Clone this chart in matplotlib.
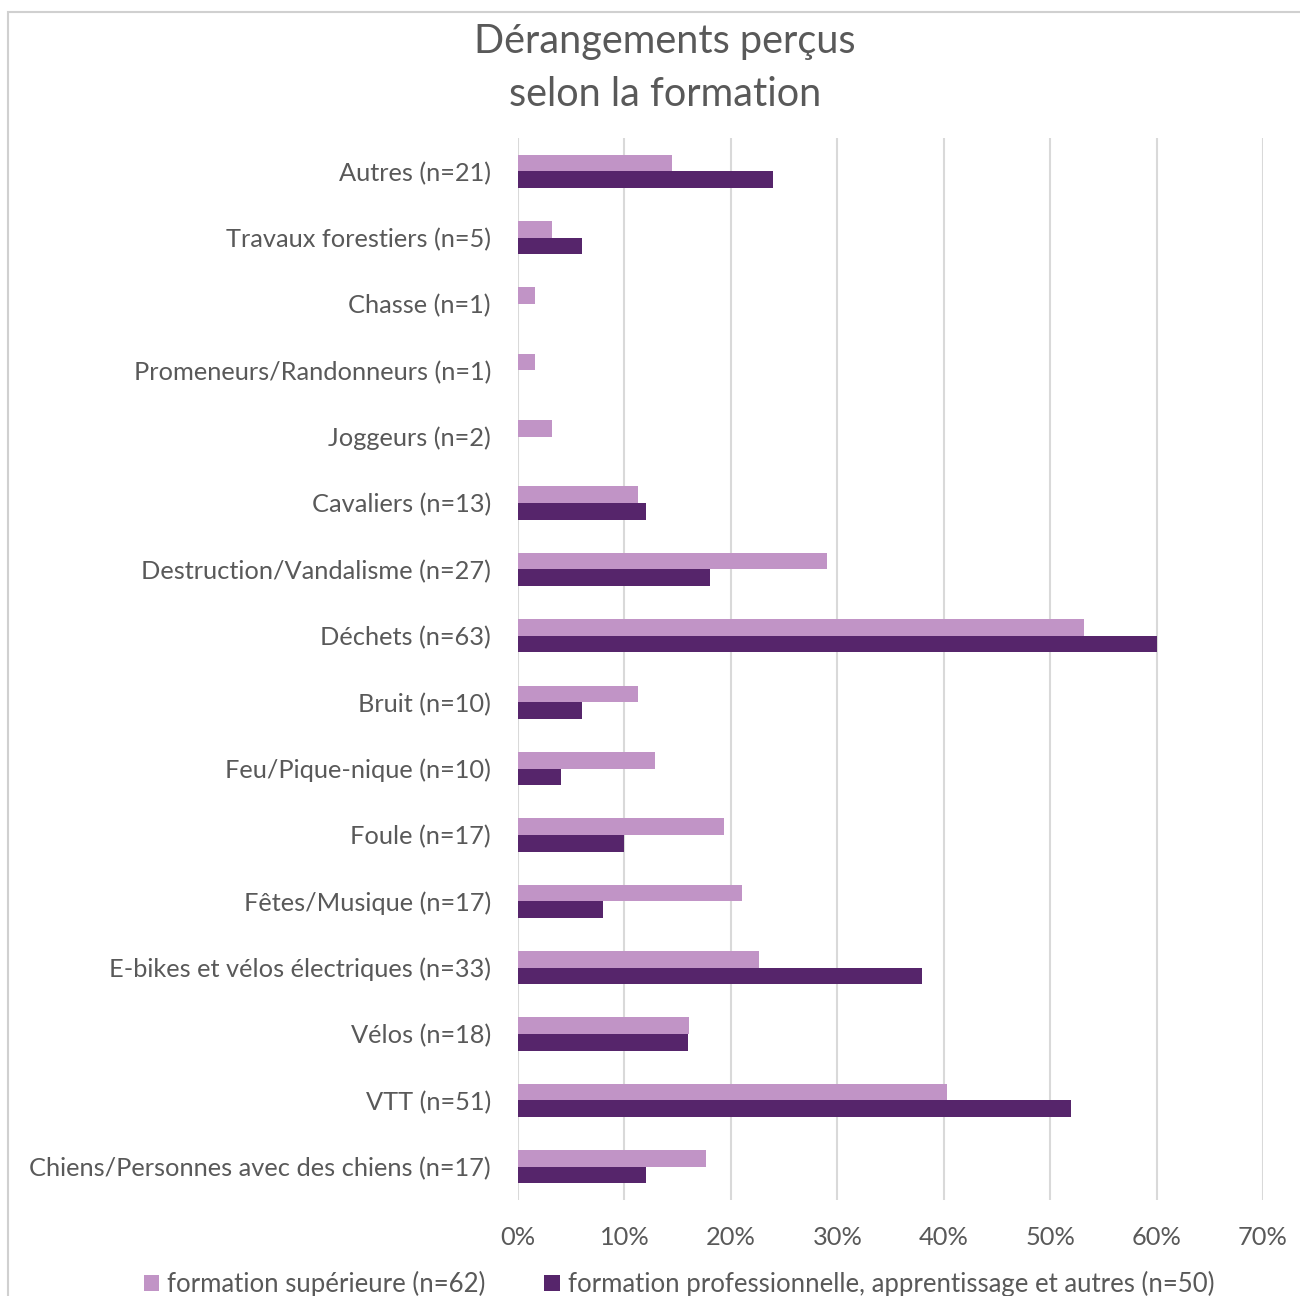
import matplotlib
matplotlib.use("Agg")
import matplotlib.pyplot as plt
from matplotlib.patches import Rectangle
from matplotlib.ticker import FuncFormatter

# Categories listed bottom to top
categories = [
    "Chiens/Personnes avec des chiens (n=17)",
    "VTT (n=51)",
    "Vélos (n=18)",
    "E-bikes et vélos électriques (n=33)",
    "Fêtes/Musique (n=17)",
    "Foule (n=17)",
    "Feu/Pique-nique (n=10)",
    "Bruit (n=10)",
    "Déchets (n=63)",
    "Destruction/Vandalisme (n=27)",
    "Cavaliers (n=13)",
    "Joggeurs (n=2)",
    "Promeneurs/Randonneurs (n=1)",
    "Chasse (n=1)",
    "Travaux forestiers (n=5)",
    "Autres (n=21)",
]
superieure = [17.7, 40.3, 16.1, 22.6, 21.0, 19.4, 12.9, 11.3, 53.2, 29.0, 11.3, 3.2, 1.6, 1.6, 3.2, 14.5]
professionnelle = [12.0, 52.0, 16.0, 38.0, 8.0, 10.0, 4.0, 6.0, 60.0, 18.0, 12.0, 0.0, 0.0, 0.0, 6.0, 24.0]
series_labels = ["formation supérieure (n=62)",
                 "formation professionnelle, apprentissage et autres (n=50)"]
xticks = [0, 10, 20, 30, 40, 50, 60, 70]
title = "Dérangements perçus\nselon la formation"

LIGHT = "#c194c6"
DARK = "#56256b"
TXT = "#595959"
GRID = "#d9d9d9"
FONT = "Lato"

W, H = 1300, 1296
fig = plt.figure(figsize=(W / 100, H / 100), dpi=100)
fig.patch.set_facecolor("white")

# outer chart frame
fig.add_artist(Rectangle((8 / W, -0.05), 1.2, 1 - 12 / H + 0.05,
                         transform=fig.transFigure, fill=False,
                         edgecolor="#d0d0d0", linewidth=1.5))

left, right = 518 / W, 1263 / W
top, bottom = 1 - 138 / H, 1 - 1200 / H
ax = fig.add_axes([left, bottom, right - left, top - bottom])

ypos = list(range(len(categories)))
h = 0.25
ax.barh([y + h / 2 for y in ypos], superieure, height=h, color=LIGHT,
        label=series_labels[0], zorder=3)
ax.barh([y - h / 2 for y in ypos], professionnelle, height=h, color=DARK,
        label=series_labels[1], zorder=3)

ax.set_xlim(0, 70)
ax.set_ylim(-0.5, len(categories) - 0.5)
ax.set_xticks(xticks)
ax.xaxis.set_major_formatter(FuncFormatter(lambda v, p: f"{v:.0f}%"))
ax.set_yticks(ypos)
ax.set_yticklabels(categories)
ax.grid(axis="x", color=GRID, linewidth=1.5, zorder=0)
for s in ax.spines.values():
    s.set_visible(False)
ax.tick_params(axis="both", length=0, colors=TXT, labelsize=18.3)
ax.tick_params(axis="y", pad=19.5)
ax.tick_params(axis="x", pad=19)
for lab in ax.get_xticklabels() + ax.get_yticklabels():
    lab.set_fontfamily(FONT)
    lab.set_color(TXT)

fig.text(665 / W, 1 - 68 / H, title, ha="center", va="center",
         fontsize=28.5, color=TXT, family=FONT, linespacing=1.5)

handles, labels = ax.get_legend_handles_labels()
fig.legend(handles, labels, loc="center", bbox_to_anchor=(679 / W, 1 - 1284 / H),
           ncol=2, frameon=False, handlelength=0.6,
           handleheight=0.6, handletextpad=0.3, columnspacing=2.3,
           labelcolor=TXT, prop={"family": FONT, "size": 18.5})

fig.savefig("out.png", dpi=100, facecolor="white")
